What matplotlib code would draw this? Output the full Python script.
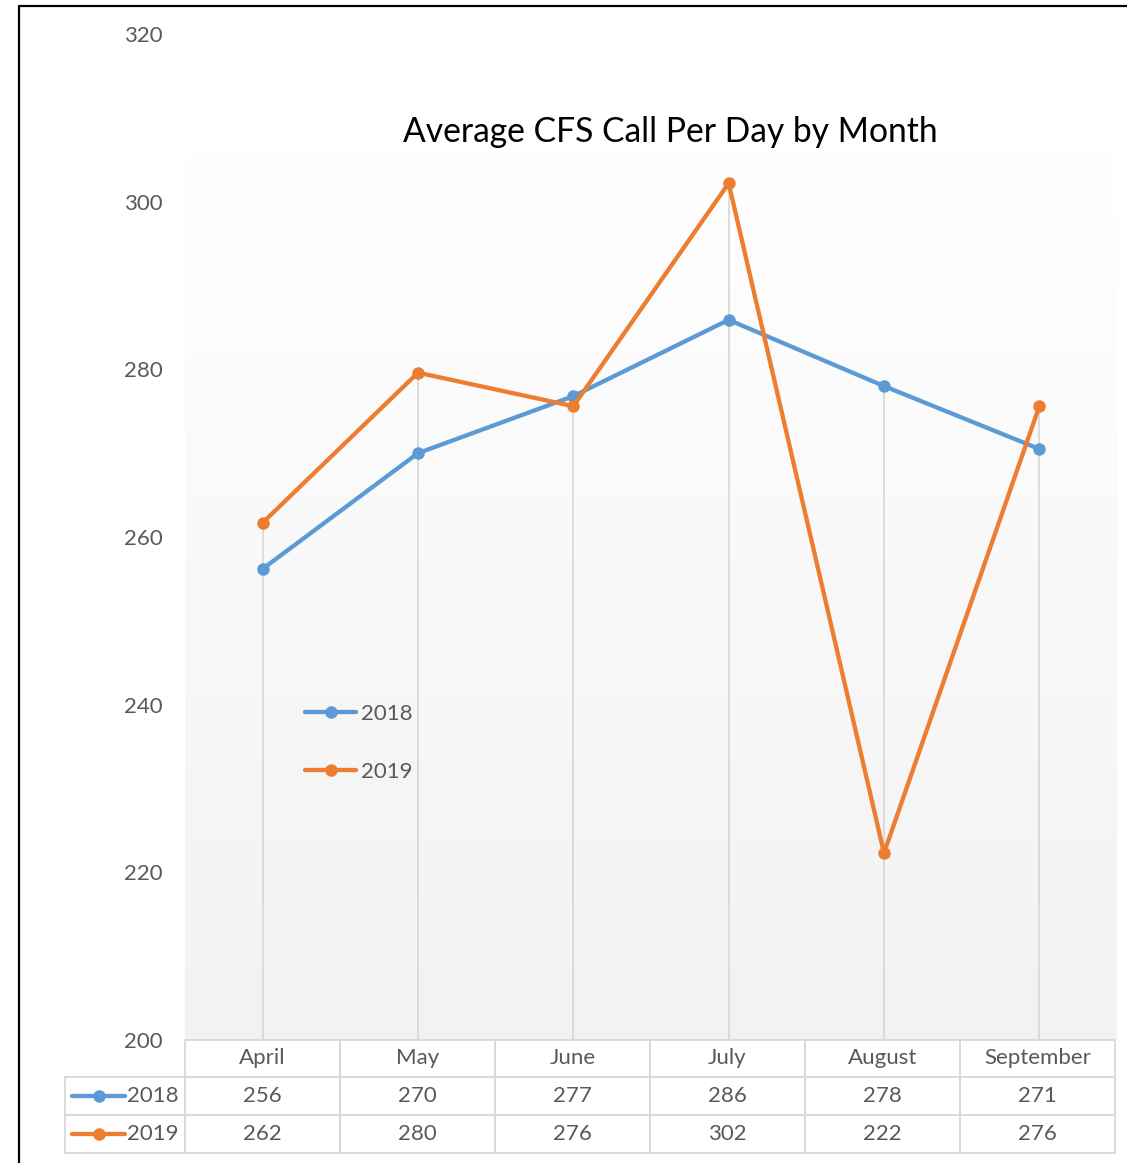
import numpy as np
import matplotlib
matplotlib.use("Agg")
import matplotlib.pyplot as plt
from matplotlib.lines import Line2D
from matplotlib.table import Table

months = ["April", "May", "June", "July", "August", "September"]
calls_2018 = [256.2, 270.0, 276.8, 285.9, 278.0, 270.5]
calls_2019 = [261.7, 279.6, 275.6, 302.2, 222.3, 275.6]
labels_2018 = ["256", "270", "277", "286", "278", "271"]
labels_2019 = ["262", "280", "276", "302", "222", "276"]
series_names = ["2018", "2019"]
y_ticks = [200, 220, 240, 260, 280, 300, 320]

BLUE = "#5b9bd5"
ORANGE = "#ed7d31"
TEXT = "#595959"
GRID = "#d9d9d9"
FS = 16

plt.rcParams["font.family"] = ["Lato", "DejaVu Sans"]

W, H = 1127, 1163
fig = plt.figure(figsize=(W / 100, H / 100), dpi=100)


def px_axes(x0, y0, x1, y1):
    # pixel box (top-left origin) -> figure axes
    return fig.add_axes([x0 / W, 1 - y1 / H, (x1 - x0) / W, (y1 - y0) / H])


# outer border (only left and top visible)
border = fig.add_axes([0, 0, 1, 1], facecolor="none")
border.set_axis_off()
border.plot([19 / W, 19 / W, 1.0], [0.0, 1 - 6 / H, 1 - 6 / H], color="black", lw=1.6,
            transform=border.transAxes, solid_capstyle="butt")

ax = px_axes(185, 34, 1117, 1040)
ax.set_facecolor("none")
x = np.arange(len(months))
ax.set_xlim(-0.5, len(months) - 0.5)
ax.set_ylim(200, 320)

# gradient plot area
top_frac = (1040 - 150) / (1040 - 34)
grad = np.linspace(0xf2 / 255, 1.0, 256).reshape(-1, 1)
ax.imshow(np.dstack([grad, grad, grad]), extent=[0, 1, 0, top_frac], origin="lower",
          transform=ax.transAxes, aspect="auto", zorder=0)

# drop lines
tops = np.maximum(calls_2018, calls_2019)
ax.vlines(x, 200, tops, color=GRID, lw=1.3, zorder=1)

l1, = ax.plot(x, calls_2018, color=BLUE, lw=3.1, marker="o", ms=8, zorder=3,
              solid_capstyle="round")
l2, = ax.plot(x, calls_2019, color=ORANGE, lw=3.1, marker="o", ms=8, zorder=4,
              solid_capstyle="round")

ax.set_yticks(y_ticks)
ax.set_xticks([])
ax.tick_params(axis="y", length=0, pad=16, labelsize=FS, labelcolor=TEXT)
for s in ax.spines.values():
    s.set_visible(False)

fig.text(670 / W, 1 - 132 / H, "Average CFS Call Per Day by Month", ha="center",
         va="center", fontsize=24.2, color="black")

ax.legend([l1, l2], series_names, loc="upper left",
          bbox_to_anchor=(285 / W, 1 - 684 / H), bbox_transform=fig.transFigure,
          frameon=False, fontsize=FS, labelcolor=TEXT, handlelength=2.3,
          handletextpad=0.2, labelspacing=1.7)

# data table
tax = px_axes(65, 1040, 1115, 1153)
tax.set_axis_off()
lab_frac = 120 / 1050
tbl = Table(tax, bbox=[lab_frac, 0, 1 - lab_frac, 1])
col_w = 155 / 1050
row_h = [37 / 113, 38 / 113, 38 / 113]
for j, m in enumerate(months):
    tbl.add_cell(0, j, width=col_w, height=row_h[0], text=m, loc="center",
                 edgecolor=GRID, facecolor="none")
for i, (name, vals) in enumerate([(series_names[0], labels_2018),
                                  (series_names[1], labels_2019)], start=1):
    c = tbl.add_cell(i, -1, width=lab_frac, height=row_h[i], text=name, loc="right",
                     edgecolor=GRID, facecolor="none")
    c.PAD = 0.05
    for j, v in enumerate(vals):
        tbl.add_cell(i, j, width=col_w, height=row_h[i], text=v, loc="center",
                     edgecolor=GRID, facecolor="none")
tbl.auto_set_font_size(False)
tbl.set_fontsize(FS)
for cell in tbl.get_celld().values():
    cell.set_linewidth(1.3)
    cell.get_text().set_color(TEXT)
tax.add_table(tbl)

# legend keys in the table
for yc, col in [((1153 - 1096) / 113, BLUE), ((1153 - 1134) / 113, ORANGE)]:
    tax.add_line(Line2D([7 / 1050, 60 / 1050], [yc, yc], color=col, lw=3.1,
                        transform=tax.transAxes, solid_capstyle="round"))
    tax.add_line(Line2D([33.5 / 1050], [yc], color=col, marker="o", ms=8,
                        transform=tax.transAxes))

fig.savefig("out.png", dpi=100)
